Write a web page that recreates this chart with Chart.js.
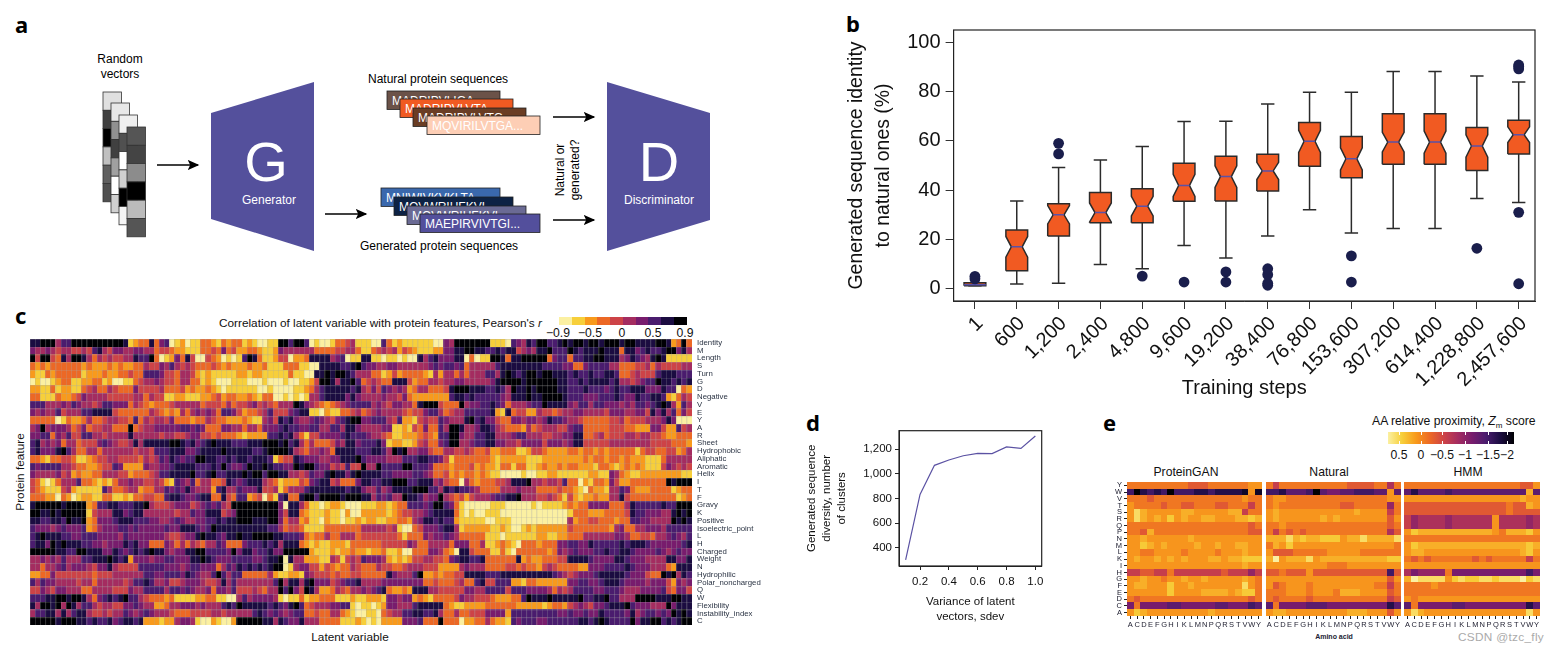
<!DOCTYPE html>
<html lang="en">
<head>
<meta charset="UTF-8">
<title>ProteinGAN figure</title>
<script src="https://cdn.jsdelivr.net/npm/chart.js"></script>
<style>
    html, body { margin: 0; padding: 0; background: #fff; }
    body { position: relative; width: 1556px; height: 653px; overflow: hidden; font-family: "Liberation Sans", Arial, sans-serif; color: #111; }
    canvas, svg { position: absolute; }
    .t { position: absolute; white-space: nowrap; font-size: 11.8px; line-height: 14px; }
    .big { font-size: 12.2px; }
    .c { transform: translateX(-50%); text-align: center; }
    .letter { position: absolute; font: bold 22px "Noto Sans", sans-serif; line-height: 22px; color: #000; }
    .swatch { position: absolute; top: 317px; height: 8px; }
    .zTick { position: absolute; width: 1px; height: 12px; top: 432px; background: linear-gradient(to bottom, #fff 0 3px, transparent 3px 9px, #fff 9px 12px); }
</style>
</head>
<body>

<svg id="schematic" width="760" height="270" style="left:0;top:0" font-family="Liberation Sans, Arial, sans-serif" font-size="12">
    <defs>
        <marker id="head" markerWidth="10" markerHeight="10" refX="8" refY="4" orient="auto">
            <path d="M0,0 L9,4 L0,8 L2,4 Z" fill="#000"/>
        </marker>
    </defs>
    <g id="vectors"></g>
    <polygon points="211,113 314,82 314,251 211,219" fill="#54509c"/>
    <polygon points="607,82 710,113 710,220 607,251" fill="#54509c"/>
    <text x="266" y="181" fill="#fff" font-size="56" text-anchor="middle">G</text>
    <text x="269" y="204" fill="#fff" text-anchor="middle">Generator</text>
    <text x="659" y="181" fill="#fff" font-size="56" text-anchor="middle">D</text>
    <text x="659" y="204" fill="#fff" text-anchor="middle">Discriminator</text>
    <g stroke="#000" stroke-width="1.3" marker-end="url(#head)">
        <line x1="157" y1="165" x2="198" y2="165"/>
        <line x1="325" y1="214" x2="366" y2="214"/>
        <line x1="553" y1="117" x2="594" y2="117"/>
        <line x1="553" y1="220" x2="594" y2="220"/>
    </g>
    <text x="120" y="63" text-anchor="middle">Random</text>
    <text x="120" y="78" text-anchor="middle">vectors</text>
    <text x="368" y="83">Natural protein sequences</text>
    <text x="360" y="250">Generated protein sequences</text>
    <text transform="translate(564,170) rotate(-90)" text-anchor="middle">Natural or</text>
    <text transform="translate(579,170) rotate(-90)" text-anchor="middle">generated?</text>
    <g id="cards" font-size="12"></g>
</svg>

<div class="letter" style="left:15px;top:13px">a</div>
<div class="letter" style="left:846px;top:12px">b</div>
<div class="letter" style="left:15px;top:304px">c</div>
<div class="letter" style="left:806px;top:411px">d</div>
<div class="letter" style="left:1103px;top:411px">e</div>

<div class="t" style="left:219px;top:316px">Correlation of latent variable with protein features, Pearson's <i>r</i></div>
<div class="t" style="left:20px;top:472px;transform:translate(-50%,-50%) rotate(-90deg)">Protein feature</div>
<div class="t c" style="left:350px;top:630px">Latent variable</div>
<div id="pearsonLegend"></div>

<div class="t big" style="left:1372px;top:414px">AA relative proximity, <i>Z</i><sub style="font-size:8px;line-height:0">m</sub> score</div>
<div id="zBar" style="position:absolute;left:1388px;top:432px;width:126px;height:12px"></div>
<div id="zLegend"></div>
<div class="t c big" style="left:1186px;top:465px">ProteinGAN</div>
<div class="t c big" style="left:1329px;top:465px">Natural</div>
<div class="t c big" style="left:1468px;top:465px">HMM</div>
<div class="t c" style="left:1334px;top:632px;font-size:7px;line-height:9px;font-weight:bold;color:#223">Amino acid</div>
<div class="t" style="left:1458px;top:630px;color:#aaa;letter-spacing:.3px">CSDN @tzc_fly</div>

<canvas id="boxChart" style="left:843px;top:24px" width="697" height="376"></canvas>
<canvas id="latentChart" style="left:30px;top:336px" width="735" height="292"></canvas>
<canvas id="clusterChart" style="left:804px;top:424px" width="244" height="200"></canvas>
<canvas id="ganChart" style="left:1105px;top:478px" width="160" height="158"></canvas>
<canvas id="naturalChart" style="left:1266px;top:478px" width="138" height="158"></canvas>
<canvas id="hmmChart" style="left:1404px;top:478px" width="140" height="158"></canvas>

<script>
// panel b, notched boxes
const steps = ['1', '600', '1,200', '2,400', '4,800', '9,600', '19,200', '38,400', '76,800', '153,600', '307,200', '614,400', '1,228,800', '2,457,600'];
const boxQ1 = [1.2, 7.3, 21.4, 26.8, 26.8, 35.5, 35.6, 39.6, 49.7, 45, 50.5, 50.5, 48, 54.7];
const boxMedian = [1.6, 17, 30, 30.9, 33.5, 41.9, 45.5, 47.8, 59.8, 52.7, 59.5, 59.5, 57.9, 62.5];
const boxQ3 = [2.4, 23.8, 34.5, 39, 40.6, 50.9, 53.8, 54.6, 67.5, 61.8, 71, 71, 65.4, 68.4];
const whiskerLow = [1.2, 1.9, 2.2, 9.8, 8.1, 17.5, 12.5, 21.4, 32, 22.6, 24.4, 24.4, 36.6, 35];
const whiskerHigh = [2.4, 35.6, 49.2, 52.2, 57.7, 67.9, 68, 75, 79.7, 79.7, 88.2, 88.2, 86.3, 83.9];
const notchSize = [0, 4.2, 3.7, 3.9, 4, 4.5, 4.4, 3.5, 4.5, 4.5, 4, 4.5, 4.5, 3.2];
const outliers = [[4, 5], [], [54.7, 59], [], [5.1], [2.7], [2.7, 6.8], [1.4, 2.2, 5.7, 8.1], [], [2.7, 13.3], [], [], [16.4], [2, 31, 89.2, 90.2, 90.8]];

// panel d
const sdev = [0.1, 0.2, 0.3, 0.4, 0.5, 0.6, 0.7, 0.8, 0.9, 1.0];
const clusters = [303, 834, 1070, 1113, 1148, 1167, 1165, 1219, 1208, 1308];

// panel c, one digit per cell, r = -0.9 + 0.2 * digit
const featureNames = ['Identity', 'M', 'Length', 'S', 'Turn', 'G', 'D', 'Negative', 'V', 'E', 'Y', 'A', 'R', 'Sheet', 'Hydrophobic', 'Aliphatic', 'Aromatic', 'Helix', 'I', 'T', 'F', 'Gravy', 'K', 'Positive', 'Isoelectric_point', 'L', 'H', 'Charged', 'Weight', 'N', 'Hydrophilic', 'Polar_noncharged', 'Q', 'W', 'Flexibility', 'Instability_index', 'C'];
const latentRows = [
    '88999577 99999999 99812338 36701201 13321323 31210011 99799701 00133451 11007312 11111100 65999999 91110765 87997789 89989989 99899888 89982393',
    '65565455 44547854 66556655 34432211 13343634 22332112 65555553 33344553 11345452 43211122 66889988 77878845 65889777 98788898 88388678 77899685',
    '94994385 99853545 44558779 30126384 00432010 17983112 44022388 88567011 88110110 10085786 66880301 19983889 99993677 37788998 88568765 89811111',
    '32323333 33232223 23223354 46575454 33343232 22322311 13331100 88887789 76655665 55555676 77673555 55788888 88877776 63367777 55333445 35444455',
    '21132333 33122232 23343377 76443554 21211111 22122111 11311008 89899875 55331242 33332152 55353555 77589878 99899888 78778778 87334544 47888777',
    '01001233 11223312 00113455 65443553 31210001 11000100 01001124 99858897 34543388 84233554 55665555 56899998 99999988 77878888 78554567 79887878',
    '22113122 11345335 43336444 45333423 22321011 11110010 00011235 78888878 54647656 52355333 48999888 77875988 98999988 77787776 78778886 66877032',
    '33111322 34655554 44445535 44112211 12234233 22321330 01010155 78888686 55556554 63222222 27887877 77765888 98899998 77766677 78766877 88721354',
    '77755565 76554577 66635432 33345555 53444353 44564543 55598654 32345677 77565466 55389994 33395667 78763555 67798888 65775776 66565776 78985275',
    '65655745 55778888 43333335 43232535 65653776 42334574 44678811 02113345 34565555 43446775 34557777 78218344 22544345 56655554 66655664 86857364',
    '33333013 22353345 54437354 55463332 33543322 23211564 87865567 65467899 66777547 22145447 65558978 66433665 66568776 55433333 44534445 55686000',
    '56956665 34634455 33393455 66666776 76333665 53553666 78776677 55775886 55556611 21436337 59985568 87543332 53455544 67733333 44433222 66422745',
    '66773657 44775545 55585555 54554456 64434333 21222277 87853144 66667877 76554311 22234327 79965577 88555677 55544556 68833453 44455455 44322333',
    '78565635 53444676 54458588 88899878 67898887 77888999 89785353 33465886 77786122 11245336 79955677 88665546 66646665 68844444 55555555 44443332',
    '78666897 53355355 55554554 77788866 78888988 88877899 99854355 65388887 77887598 95566433 55445433 42233311 24432222 33233232 33333134 43344235',
    '33213344 31123445 54444354 57687677 99887787 88788871 34487666 55668889 76666555 77788776 41333333 32122222 11122222 22232332 33232221 11355555',
    '76777755 43322344 76222265 56678888 77787976 67988987 76698997 66454744 95597777 99777633 32333423 22133133 11232232 33222133 21232321 11465454',
    '65555645 23223355 54423334 57788889 77897788 89899799 88554576 68988689 88887766 66776533 42323323 21100001 00112211 11112211 65321122 22222211',
    '43101355 57332121 35565544 54217657 35533487 67888543 12224367 88453336 88778899 97788856 43305323 33445888 95545547 33021332 64223333 33398999',
    '43211145 21111175 33455233 55767686 55527855 76668445 13555788 88888788 65575688 88999775 87877653 33355565 55333343 32103221 55763222 33331233',
    '33322032 01221133 11213344 33788766 78833843 77234031 78338997 99998999 88576755 98875669 54342455 56778895 55445431 42122322 55843333 33333123',
    '89999989 99923778 87778895 44456664 56767549 99999999 60885311 01221000 11122123 37776799 76310000 01110000 01011112 32336666 33358777 77877999',
    '99889899 99914555 88678855 55554557 66888456 99999999 64883211 12110200 22222123 44556788 88310100 11100000 00000000 13332223 33348776 66558989',
    '88778879 88923666 78887776 65567655 66778788 99988899 63552311 02110112 12211223 32568878 77211111 00111000 00000000 52334433 32337766 55559898',
    '76665676 66723566 67767666 66766888 76798888 88888877 53443111 13333333 55555451 00346667 88512222 21121001 21222222 43333333 25633556 66577777',
    '78988877 66777666 65766666 66544566 89887688 98899998 87776323 35335553 44444443 13336566 76533333 11101111 11221122 33355555 56653344 35567657',
    '78869898 88776656 66878663 33653535 43557633 36777878 58883212 11222133 33334444 46533555 53666335 11232103 33233366 77668777 77878887 66666678',
    '99999887 79988866 87678789 88656688 99777769 68867786 69999921 11212232 21223112 00333665 32088433 31131033 33332365 67666778 77887666 67656766',
    '55656575 55778889 87826665 66776668 89876667 77766788 90855222 11541454 76665212 12445544 36788778 33333382 32233344 88887666 68876665 55588668',
    '55355675 66654668 54444777 77666567 76663576 87878789 90156644 24323354 33354433 45554442 22256555 33334434 33245433 33226667 77787666 55532888',
    '22336444 44443444 55555577 66777687 65579757 73333352 11221654 44343344 33333865 55792232 33448888 77788888 88888765 45666788 88876664 33989587',
    '75766555 54553555 55457787 55644566 65445857 55555557 95885896 66456778 55556666 66663343 33453378 44777221 33222222 66776678 88766665 66642656',
    '44654665 55335555 44465577 77577676 55636657 44454355 97964985 22354355 65678322 32888554 44446655 77774777 66665354 57777667 77655566 66743664',
    '77788998 99853678 78977543 33231111 22331100 57566665 10113122 33311121 12221665 66232133 33465544 43222337 98889888 88977889 77555999 98889988',
    '85998959 85775455 44667655 22355666 56555787 98888878 76897345 55667710 11012665 55788888 32112222 33333322 22212332 45654667 88897666 55596888',
    '57788585 78854454 55765676 55543334 44455455 55578767 65677334 33553210 01103455 77887785 33533444 66662777 77777766 76676687 77768567 76769898',
    '99999899 98878778 67887822 21225665 10021002 99999885 87668555 33331112 10102222 66673339 33302233 53221767 77667777 77887898 77779688 99787899'
];
const pearsonLevels = ['#fbf0a2', '#f7cf3a', '#f89a1c', '#ec6825', '#cd4347', '#a42c60', '#781c6d', '#4a1c6e', '#1b0c41', '#000004'];
const pearsonTicks = ['\u22120.9', '\u22120.5', '0', '0.5', '0.9'];

// panel e, one hex digit per cell, Zm = 0.8 - 0.2 * digit
const aminoAcids = ['A', 'C', 'D', 'E', 'F', 'G', 'H', 'I', 'K', 'L', 'M', 'N', 'P', 'Q', 'R', 'S', 'T', 'V', 'W', 'Y'];
const aminoRowsTopDown = ['Y', 'W', 'V', 'T', 'S', 'R', 'Q', 'P', 'N', 'M', 'L', 'K', 'I', 'H', 'G', 'F', 'E', 'D', 'C', 'A'];
const proteinGanRows = [
    '55555 55556 66555 55544', 'cfdcd cfccc ddcdd dde4e', '55565 55555 55555 55455', '45555 65566 55566 55575',
    '41344 44433 44444 33755', '41343 42434 43344 43323', '55555 55555 55555 55565', '55635 55555 55555 55566',
    '44344 44443 44444 44444', '44234 34444 34434 43344', '44554 44454 44454 44344', '43443 43434 44334 33222',
    '44444 44444 44444 44344', '77667 75777 77776 77797', '44344 54434 43444 44345', '43344 42443 44444 44145',
    '44444 42444 43333 43225', '56555 55555 55555 55565', 'a5aaa abbaa aaabb aaacb', '42344 44444 44344 44444'
];
const naturalRows = [
    '57555 55555 55666 65585', 'ccdbb bcfba abbcc cbb4b', '54455 55555 55555 55544', '54555 55555 56655 55595',
    '43444 44444 44434 44475', '43444 44434 34444 44464', '55455 55555 55555 55565', '57565 65555 55555 55586',
    '33313 23322 24331 33331', '53424 44444 44444 44445', '46665 55554 44445 55555', '30433 31433 33333 33322',
    '44444 44445 55444 44444', '66566 64666 66666 666c6', '44444 44444 44444 44464', '46544 45444 44444 45575',
    '55544 45444 53334 44465', '56555 56555 55555 55576', 'b5aaa abbba aaaaa aaadb', '43344 44444 44333 44464'
];
const hmmRows = [
    '55555 55555 55555 55664', 'bdbbb bcbbb bbbbb bbb3b', '44444 44444 44444 44344', '66666 66666 66666 56634',
    '66666 66666 66666 56666', '79888 89888 88848 88898', '79888 89888 88848 88898', '42333 33333 33345 33324',
    '55555 55555 55555 55555', '42333 33333 33333 33323', '43344 44444 44444 44324', '56565 55555 65655 55575',
    '44444 44444 44444 44444', '8a999 95aaa aaaaa aaaca', '30111 14212 21121 11021', '55554 55555 55555 55555',
    '55555 55555 55555 55555', '45444 44444 44444 44444', 'b5aaa aabba aaaaa aaadb', '41344 44444 44444 44414'
];
const zTicks = ['0.5', '0', '\u22120.5', '\u22121', '\u22121.5', '\u22122'];
const zLevelPos = [0, 0.6, 1.1, 1.6, 2.1, 2.7, 3.4, 4.2, 4.8, 5.4, 6, 6.6, 7.2, 7.8, 8.4, 9];

// panel a
const vectorColumns = [
    { x: 103, y: 92, cells: ['#e0e0e0', '#404040', '#000', '#c0c0c0', '#606060', '#505050'] },
    { x: 111, y: 103, cells: ['#e8e8e8', '#909090', '#404040', '#a0a0a0', '#fff', '#d0d0d0'] },
    { x: 119, y: 115, cells: ['#efefef', '#505050', '#fff', '#d0d0d0', '#000', '#f5f5f5'] },
    { x: 127, y: 127, cells: ['#555', '#444', '#8c8c8c', '#000', '#bbb', '#555'] }
];
const seqCards = [
    { x: 387, y: 91, w: 113, fill: '#6b5248', text: 'MADRIPVLIGA...' },
    { x: 400, y: 99, w: 113, fill: '#f05a22', text: 'MADRIPVLVTA...' },
    { x: 413, y: 108, w: 113, fill: '#6a3d24', text: 'MADRIPVLVTG...' },
    { x: 427, y: 116, w: 113, fill: '#fdceb5', text: 'MQVIRILVTGA...' },
    { x: 381, y: 188, w: 119, fill: '#3a68ad', text: 'MNIWIVKVKLTA...' },
    { x: 394, y: 197, w: 119, fill: '#0d2244', text: 'MQVWRIHFKVL...' },
    { x: 407, y: 206, w: 119, fill: '#6a6a94', text: 'MQVWRIHFKVL...' },
    { x: 420, y: 214, w: 120, fill: '#534f9c', text: 'MAEPIRVIVTGI...' }
];

const svgNs = 'http://www.w3.org/2000/svg';
function svgEl(parent, name, attrs, text) {
    const el = document.createElementNS(svgNs, name);
    for (const k in attrs) el.setAttribute(k, attrs[k]);
    if (text) el.textContent = text;
    parent.appendChild(el);
    return el;
}
vectorColumns.forEach(col => {
    col.cells.forEach((fill, i) => {
        svgEl(document.getElementById('vectors'), 'rect', { x: col.x, y: col.y + i * 18.3, width: 18.5, height: 18.3, fill: fill, stroke: '#333', 'stroke-width': 0.8 });
    });
});
seqCards.forEach(c => {
    const g = document.getElementById('cards');
    svgEl(g, 'rect', { x: c.x, y: c.y, width: c.w, height: 18.5, fill: c.fill, stroke: '#222', 'stroke-width': 0.8 });
    svgEl(g, 'text', { x: c.x + 5, y: c.y + 14, fill: '#fff' }, c.text);
});

// legends
pearsonLevels.forEach((col, i) => {
    const d = document.createElement('div');
    d.className = 'swatch';
    d.style.left = (559 + i * 12.77) + 'px';
    d.style.width = '12.8px';
    d.style.background = col;
    document.getElementById('pearsonLegend').appendChild(d);
});
[558, 590, 622, 653, 685].forEach((x, i) => {
    const d = document.createElement('div');
    d.className = 't c big';
    d.style.left = x + 'px';
    d.style.top = '326px';
    d.textContent = pearsonTicks[i];
    document.getElementById('pearsonLegend').appendChild(d);
});
document.getElementById('zBar').style.background = 'linear-gradient(to right,' + pearsonLevels.join(',') + ')';
[1399, 1421, 1442, 1465, 1488, 1507].forEach((x, i) => {
    const d = document.createElement('div');
    d.className = 't c big';
    d.style.left = x + 'px';
    d.style.top = '448px';
    d.textContent = zTicks[i];
    document.getElementById('zLegend').appendChild(d);
    const m = document.createElement('div');
    m.className = 'zTick';
    m.style.left = x + 'px';
    document.getElementById('zLegend').appendChild(m);
});

Chart.defaults.font.family = '"Liberation Sans", Arial, sans-serif';
Chart.defaults.color = '#111';
Chart.defaults.animation = false;
Chart.defaults.events = [];
Chart.defaults.responsive = false;
Chart.defaults.layout.autoPadding = false;
Chart.defaults.plugins.legend.display = false;
Chart.defaults.plugins.tooltip.enabled = false;

const framePlugin = {
    id: 'frame',
    afterDatasetsDraw(chart, args, opts) {
        const a = chart.chartArea;
        chart.ctx.save();
        chart.ctx.strokeStyle = opts.color || '#222';
        chart.ctx.lineWidth = opts.width || 1.2;
        chart.ctx.strokeRect(a.left, a.top, a.right - a.left, a.bottom - a.top);
        chart.ctx.restore();
    }
};

// axis boxes get a fixed size so the plot areas land where they should
function fixWidth(w) {
    return s => { s.width = w; s.paddingTop = s.paddingBottom = 0; };
}
function fixHeight(h) {
    return s => { s.height = h; s.paddingLeft = s.paddingRight = 0; };
}

// panel b
const boxW = 0.26, notchW = 0.13, capW = 0.16;
const boxDatasets = steps.map((s, i) => {
    const x = i + 1, m = boxMedian[i], n = notchSize[i], lo = boxQ1[i], hi = boxQ3[i];
    const pts = n > 0 ? [
        [x - boxW, lo], [x + boxW, lo], [x + boxW, m - n], [x + notchW, m], [x + boxW, m + n],
        [x + boxW, hi], [x - boxW, hi], [x - boxW, m + n], [x - notchW, m], [x - boxW, m - n], [x - boxW, lo]
    ] : [[x - boxW, lo], [x + boxW, lo], [x + boxW, hi], [x - boxW, hi], [x - boxW, lo]];
    return {
        label: s, order: 2, showLine: true, fill: 'shape', tension: 0, pointRadius: 0,
        data: pts.map(p => ({ x: p[0], y: p[1] })),
        backgroundColor: '#f15a22', borderColor: '#2b2b2b', borderWidth: 1.5
    };
});
const gap = { x: NaN, y: NaN };
const whiskerPts = [], medianPts = [], outlierPts = [];
steps.forEach((s, i) => {
    const x = i + 1;
    whiskerPts.push({ x: x, y: whiskerLow[i] }, { x: x, y: boxQ1[i] }, gap, { x: x, y: boxQ3[i] }, { x: x, y: whiskerHigh[i] }, gap);
    whiskerPts.push({ x: x - capW, y: whiskerLow[i] }, { x: x + capW, y: whiskerLow[i] }, gap, { x: x - capW, y: whiskerHigh[i] }, { x: x + capW, y: whiskerHigh[i] }, gap);
    const half = notchSize[i] > 0 ? notchW : boxW;
    medianPts.push({ x: x - half, y: boxMedian[i] }, { x: x + half, y: boxMedian[i] }, gap);
    outliers[i].forEach(v => outlierPts.push({ x: x, y: v }));
});
new Chart(document.getElementById('boxChart'), {
    type: 'scatter',
    data: {
        datasets: [
            { label: 'outliers', order: 0, data: outlierPts, pointRadius: 5.4, backgroundColor: '#1a1e4c', borderWidth: 0 },
            { label: 'median', order: 1, showLine: true, data: medianPts, pointRadius: 0, borderColor: '#5a52a8', borderWidth: 1.5 },
            ...boxDatasets,
            { label: 'whiskers', order: 3, showLine: true, data: whiskerPts, pointRadius: 0, borderColor: '#2b2b2b', borderWidth: 1.5 }
        ]
    },
    options: {
        layout: { padding: { top: 6, right: 5 } },
        scales: {
            x: {
                type: 'linear', min: 0.49, max: 14.39,
                afterBuildTicks: s => { s.ticks = steps.map((v, i) => ({ value: i + 1 })); },
                afterFit: fixHeight(99),
                grid: { drawOnChartArea: false, tickLength: 8, color: '#333' },
                border: { color: '#333' },
                ticks: { font: { size: 20 }, minRotation: 45, maxRotation: 45, autoSkip: false, padding: 3, labelOffset: 5, color: '#111', callback: v => steps[v - 1] },
                title: { display: true, text: 'Training steps', font: { size: 20 }, padding: 0, color: '#111' }
            },
            y: {
                min: -5, max: 105,
                afterBuildTicks: s => { s.ticks = [0, 20, 40, 60, 80, 100].map(v => ({ value: v })); },
                afterFit: fixWidth(110.6),
                grid: { drawOnChartArea: false, tickLength: 8, color: '#333' },
                border: { color: '#333' },
                ticks: { font: { size: 20 }, padding: 5, color: '#111' },
                title: { display: true, text: ['Generated sequence identity', 'to natural ones (%)'], font: { size: 19.4, lineHeight: 1.38 }, padding: 0, color: '#111' }
            }
        }
    },
    plugins: [framePlugin]
});

// panel c
function makeSwatch(w, h, fill, edge) {
    const c = document.createElement('canvas');
    c.width = w;
    c.height = h;
    const g = c.getContext('2d');
    g.fillStyle = fill;
    g.fillRect(0, 0, w, h);
    if (edge) {
        g.fillStyle = edge;
        g.fillRect(0, 0, w, 1);
        g.fillRect(0, 0, 1, h);
    }
    return c;
}
const latentSwatches = pearsonLevels.map(c => makeSwatch(6, 8, c, 'rgba(170,170,170,0.3)'));
const latentCells = [];
latentRows.forEach((row, r) => {
    row.replace(/ /g, '').split('').forEach((ch, c) => {
        latentCells.push({ x: c, y: featureNames[r], v: -0.9 + 0.2 * Number(ch), level: Number(ch) });
    });
});
new Chart(document.getElementById('latentChart'), {
    type: 'scatter',
    data: { datasets: [{ label: 'r', data: latentCells, pointStyle: ctx => latentSwatches[ctx.raw ? ctx.raw.level : 0], pointRadius: 3 }] },
    options: {
        layout: { padding: { top: 3, bottom: 3 } },
        scales: {
            x: { type: 'linear', min: -0.5, max: 127.5, display: false },
            y: {
                type: 'category', labels: featureNames, offset: true, position: 'right',
                afterFit: fixWidth(73),
                grid: { display: false, drawTicks: false }, border: { display: false },
                ticks: { font: { size: 7.8 }, autoSkip: false, padding: 5, color: '#2b3444' }
            }
        }
    }
});

// panel d
new Chart(document.getElementById('clusterChart'), {
    type: 'line',
    data: { datasets: [{ label: 'clusters', data: sdev.map((x, i) => ({ x: x, y: clusters[i] })), borderColor: '#5b52a3', borderWidth: 1.2, pointRadius: 0, tension: 0 }] },
    options: {
        layout: { padding: { top: 6.7, right: 6.3 } },
        scales: {
            x: {
                type: 'linear', min: 0.054, max: 1.044,
                afterBuildTicks: s => { s.ticks = [0.2, 0.4, 0.6, 0.8, 1.0].map(v => ({ value: v })); },
                afterFit: fixHeight(58),
                grid: { drawOnChartArea: false, tickLength: 4, color: '#222' },
                border: { color: '#222' },
                ticks: { font: { size: 11.5 }, padding: 5, maxRotation: 0, callback: v => v.toFixed(1) },
                title: { display: true, text: ['Variance of latent', 'vectors, sdev'], font: { size: 11.5, lineHeight: 1.3 }, padding: 0 }
            },
            y: {
                min: 253.7, max: 1351,
                afterBuildTicks: s => { s.ticks = [400, 600, 800, 1000, 1200].map(v => ({ value: v })); },
                afterFit: fixWidth(95),
                grid: { drawOnChartArea: false, tickLength: 4, color: '#222' },
                border: { color: '#222' },
                ticks: { font: { size: 11.5 }, padding: 3, callback: v => v.toLocaleString('en-US') },
                title: { display: true, text: ['Generated sequence', 'diversity, number', 'of clusters'], font: { size: 11.5, lineHeight: 1.3 }, padding: 0 }
            }
        }
    },
    plugins: [framePlugin]
});

// panel e
function zColor(code) {
    const p = zLevelPos[code], i = Math.min(8, Math.floor(p)), f = p - i;
    const hex = s => {
        const h = s.slice(1);
        return [0, 2, 4].map(k => parseInt(h.slice(k, k + 2), 16));
    };
    const a = hex(pearsonLevels[i]), b = hex(pearsonLevels[i + 1]);
    return 'rgb(' + a.map((v, k) => Math.round(v + (b[k] - v) * f)).join(',') + ')';
}
const zSwatches = [];
for (let i = 0; i < 16; i++) zSwatches.push(makeSwatch(7, 7, zColor(i)));

function aminoPanel(id, rows, leftWidth, showY, pad) {
    const cells = [];
    rows.forEach((row, r) => {
        row.replace(/ /g, '').split('').forEach((ch, c) => {
            const code = parseInt(ch, 16);
            cells.push({ x: aminoAcids[c], y: aminoRowsTopDown[r], v: 0.8 - 0.2 * code, code: code });
        });
    });
    return new Chart(document.getElementById(id), {
        type: 'scatter',
        data: { datasets: [{ label: id, data: cells, pointStyle: ctx => zSwatches[ctx.raw ? ctx.raw.code : 0], pointRadius: 3 }] },
        options: {
            layout: { padding: { top: 4, right: pad } },
            scales: {
                x: {
                    type: 'category', labels: aminoAcids, offset: true,
                    afterFit: fixHeight(20),
                    grid: { display: true, drawOnChartArea: false, offset: false, tickLength: 3, color: '#222' },
                    border: { display: false },
                    ticks: { font: { size: 7.5 }, autoSkip: false, maxRotation: 0, padding: 1, color: '#223' }
                },
                y: {
                    type: 'category', labels: aminoRowsTopDown, offset: true, display: showY,
                    afterFit: fixWidth(leftWidth),
                    grid: { display: true, drawOnChartArea: false, offset: false, tickLength: 3, color: '#222' },
                    border: { display: false },
                    ticks: { font: { size: 7.5 }, autoSkip: false, padding: 2, color: '#223' }
                }
            }
        }
    });
}
aminoPanel('ganChart', proteinGanRows, 22, true, 3);
aminoPanel('naturalChart', naturalRows, 0, false, 3);
aminoPanel('hmmChart', hmmRows, 0, false, 4);
</script>
</body>
</html>
